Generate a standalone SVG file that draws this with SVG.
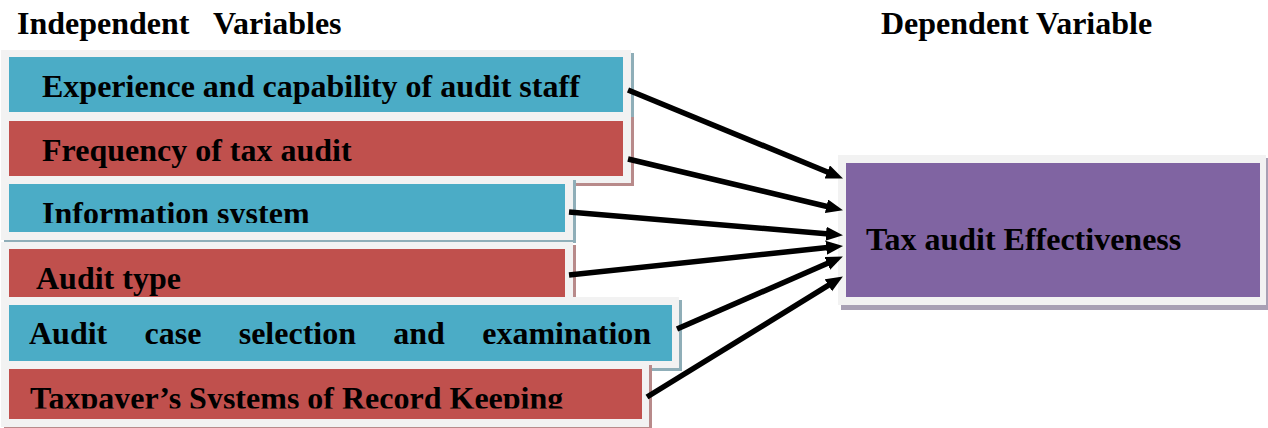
<svg xmlns="http://www.w3.org/2000/svg" width="1268" height="428" viewBox="0 0 1268 428">
<style>
.t{font-family:"Liberation Serif","Times New Roman",serif;font-weight:bold;font-size:32px;fill:#000}
.frame{fill:#F2F2F2}
.blue{fill:#4BACC6}
.red{fill:#C0504D}
.purple{fill:#8064A2}
.shb{fill:#8FAEB8}
.shr{fill:#B88A8A}
.shp{fill:#A8A0B4}
.conn line{stroke:#000;stroke-width:5.5;marker-end:url(#ah)}
</style>
<defs>
<marker id="ah" markerUnits="userSpaceOnUse" markerWidth="17" markerHeight="15" refX="6" refY="7" orient="auto" viewBox="0 0 17 15">
<path d="M0,0 L17,7 L0,14 Z" fill="#000"/>
</marker>
<clipPath id="c3"><rect x="9" y="184" width="556" height="39"/></clipPath>
<clipPath id="c4"><rect x="9" y="249" width="556" height="48"/></clipPath>
<clipPath id="c6"><rect x="9" y="369" width="633" height="39.5"/></clipPath>
</defs>
<rect width="1268" height="428" fill="#fff"/>
<g id="headings">
<text class="t" x="17" y="34" xml:space="preserve" style="white-space:pre">Independent   Variables</text>
<text class="t" x="881" y="34">Dependent Variable</text>
</g>
<g id="n1">
<rect class="shb" x="4" y="53" width="630" height="70"/>
<rect class="frame" x="1" y="50" width="630" height="70"/>
<rect class="blue" x="9" y="57" width="614" height="55"/>
<text class="t" x="42" y="97">Experience and capability of audit staff</text>
</g>
<g id="n2">
<rect class="shr" x="4" y="117" width="630" height="69"/>
<rect class="frame" x="1" y="114" width="630" height="69"/>
<rect class="red" x="9" y="121" width="614" height="55"/>
<text class="t" x="42" y="161">Frequency of tax audit</text>
</g>
<g id="n3">
<rect class="shb" x="4" y="180" width="572" height="63"/>
<rect class="frame" x="1" y="177" width="572" height="63"/>
<rect class="blue" x="9" y="184" width="556" height="48"/>
<text class="t" x="42" y="223.5" clip-path="url(#c3)">Information system</text>
</g>
<g id="n4">
<rect class="shr" x="4" y="245" width="572" height="63"/>
<rect class="frame" x="1" y="242" width="572" height="63"/>
<rect class="red" x="9" y="249" width="556" height="48"/>
<text class="t" x="36" y="289" clip-path="url(#c4)">Audit type</text>
</g>
<g id="n5">
<rect class="shb" x="4" y="300" width="678" height="71"/>
<rect class="frame" x="1" y="297" width="678" height="71"/>
<rect class="blue" x="9" y="305" width="663" height="56"/>
<text class="t" x="29" y="344" word-spacing="29.3">Audit case selection and examination</text>
</g>
<g id="n6">
<rect class="shr" x="4" y="365" width="648" height="63"/>
<rect class="frame" x="1" y="362" width="648" height="65"/>
<rect class="red" x="9" y="369" width="633" height="50"/>
<text class="t" x="30" y="409" clip-path="url(#c6)">Taxpayer’s Systems of Record Keeping</text>
</g>
<g id="target">
<rect class="shp" x="841" y="158" width="427" height="152"/>
<rect class="frame" x="838" y="155" width="428" height="150"/>
<rect class="purple" x="846" y="163" width="414" height="134"/>
<text class="t" x="866" y="250">Tax audit Effectiveness</text>
</g>
<g id="connectors" class="conn">
<line x1="628" y1="90" x2="832.8" y2="174.2"/>
<line x1="628" y1="159" x2="832.3" y2="207.7"/>
<line x1="569" y1="212" x2="832" y2="234.2"/>
<line x1="569" y1="275" x2="832.1" y2="247.1"/>
<line x1="677" y1="329" x2="832.8" y2="261"/>
<line x1="647" y1="397" x2="833.5" y2="282.2"/>
</g>
</svg>
